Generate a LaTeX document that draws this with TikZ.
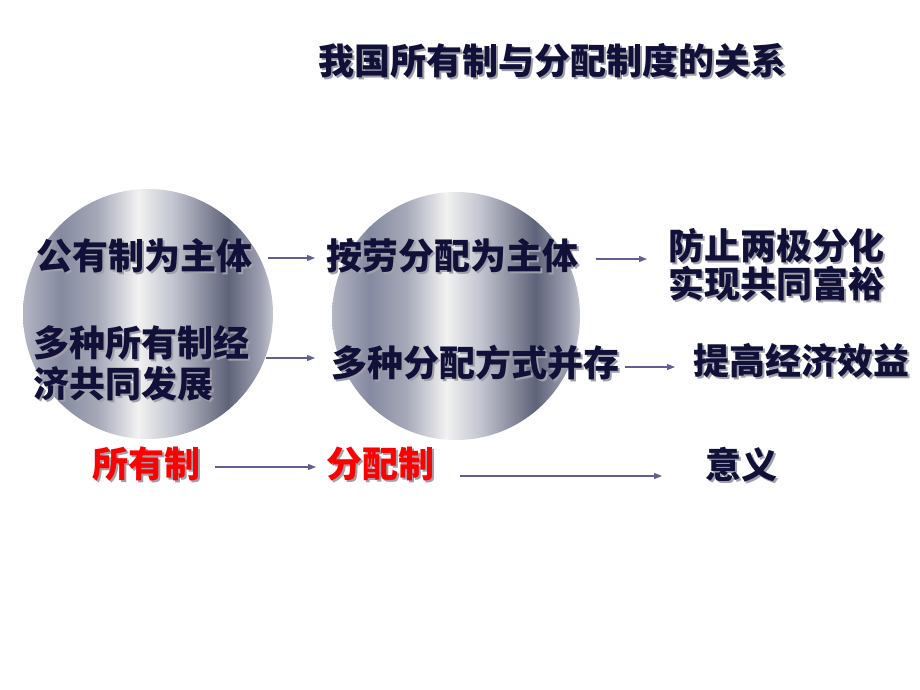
\documentclass[tikz,border=0pt]{standalone}
\usepackage{fontspec}
\setmainfont{Noto Sans CJK SC}
\usetikzlibrary{arrows.meta}
\definecolor{navy}{RGB}{16,16,56}
\definecolor{redtxt}{RGB}{255,0,0}
\definecolor{shadowgray}{RGB}{160,160,170}
\definecolor{arrowc}{RGB}{95,95,150}
\definecolor{m0}{HTML}{B4B6C4}
\definecolor{m1}{HTML}{858AA0}
\definecolor{m2}{HTML}{A6A9B8}
\definecolor{m3}{HTML}{F2F2F2}
\definecolor{m4}{HTML}{C2C4CF}
\definecolor{m5}{HTML}{5F6379}
\definecolor{m6}{HTML}{9EA1B2}
\definecolor{m7}{HTML}{C4C6D0}
\pgfdeclarehorizontalshading{metal}{100bp}{color(0bp)=(m0); color(25bp)=(m0); color(32.5bp)=(m1); color(40bp)=(m2); color(48bp)=(m3); color(55bp)=(m4); color(66bp)=(m5); color(72.5bp)=(m6); color(75bp)=(m7); color(100bp)=(m7)}
\newcommand\shd[2][navy]{\leavevmode\rlap{\kern2pt\raisebox{-2pt}{\textcolor{shadowgray}{#2}}}\textcolor{#1}{#2}}
\tikzset{
  txt/.style={inner sep=0pt, anchor=west, font=\fontsize{36pt}{40pt}\selectfont\bfseries, align=left},
  ball/.style={shading=metal, draw=none},
  arr/.style={draw=arrowc, line width=1.2pt, -{Triangle[length=8pt,width=6pt]}}
}
\begin{document}
\begin{tikzpicture}[x=1pt,y=-1pt]
\useasboundingbox (0,0) rectangle (920,690);
\fill[white] (0,0) rectangle (920,690);
% metallic discs
\shade[ball] (148,314) circle[radius=125];
\shade[ball] (456,316) circle[radius=124];
% title
\node[txt, anchor=center] (title) at (552,62) {\shd{我国所有制与分配制度的关系}};
% row 1
\node[txt] (n1) at (36,257) {\shd{公有制为主体}};
\node[txt] (n2) at (326,257) {\shd{按劳分配为主体}};
\node[txt, font=\fontsize{36pt}{38pt}\selectfont\bfseries] (n3) at (668,266) {\shd{防止两极分化}\\\shd{实现共同富裕}};
% row 2
\node[txt, font=\fontsize{36pt}{41pt}\selectfont\bfseries] (n4) at (33,364) {\shd{多种所有制经}\\\shd{济共同发展}};
\node[txt] (n5) at (331,364) {\shd{多种分配方式并存}};
\node[txt] (n6) at (693,362) {\shd{提高经济效益}};
% row 3
\node[txt] (r1) at (92,465) {\shd[redtxt]{所有制}};
\node[txt] (r2) at (326,465) {\shd[redtxt]{分配制}};
\node[txt] (m) at (705,466) {\shd{意义}};
% arrows
\draw[arr, shorten <=16pt, shorten >=11pt] ([yshift=-1pt]n1.east) -- ([yshift=-1pt]n1.east -| n2.west);
\draw[arr, shorten <=18pt, shorten >=21pt] ([yshift=-2pt]n2.east) -- ([yshift=-2pt]n2.east -| n3.west);
\draw[arr, shorten <=17pt, shorten >=16pt] ([yshift=6pt]n4.east) -- ([yshift=6pt]n4.east -| n5.west);
\draw[arr, shorten <=6pt, shorten >=18pt] ([yshift=-3pt]n5.east) -- ([yshift=-3pt]n5.east -| n6.west);
\draw[arr, shorten <=15pt, shorten >=10pt] ([yshift=-2pt]r1.east) -- ([yshift=-2pt]r1.east -| r2.west);
\draw[arr, shorten <=26pt, shorten >=43pt] ([yshift=-11pt]r2.east) -- ([yshift=-11pt]r2.east -| m.west);
\end{tikzpicture}
\end{document}
